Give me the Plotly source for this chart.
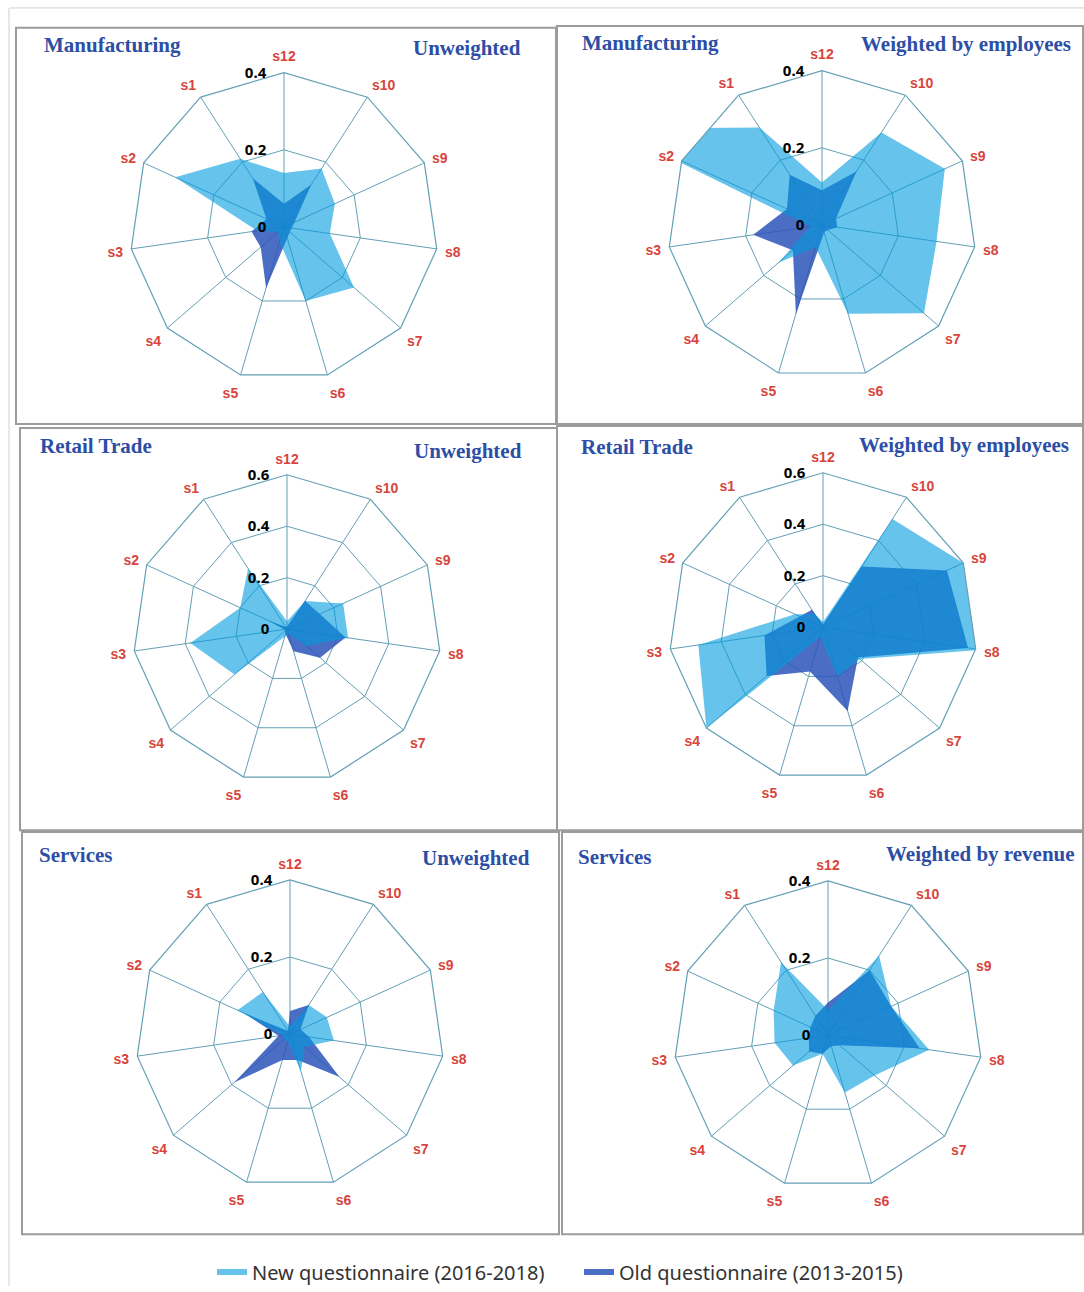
import plotly.graph_objects as go

# Spokes, clockwise from the top
categories = ["s12", "s10", "s9", "s8", "s7", "s6", "s5", "s4", "s3", "s2", "s1"]

# Manufacturing
mfg_unweighted_new = [0.14, 0.18, 0.145, 0.12, 0.24, 0.20, 0.04, 0.02, 0.07, 0.31, 0.21]
mfg_unweighted_old = [0.06, 0.13, 0.03, 0.02, 0.02, 0.03, 0.165, 0.08, 0.085, 0.05, 0.15]
mfg_employees_new = [0.11, 0.285, 0.35, 0.30, 0.35, 0.24, 0.06, 0.15, 0.03, 0.60, 0.30]
mfg_employees_old = [0.09, 0.165, 0.04, 0.04, 0.02, 0.02, 0.24, 0.10, 0.18, 0.10, 0.155]

# Retail trade
retail_unweighted_new = [0.03, 0.13, 0.24, 0.24, 0.10, 0.02, 0.03, 0.27, 0.38, 0.20, 0.28]
retail_unweighted_old = [0.01, 0.13, 0.14, 0.23, 0.17, 0.09, 0.02, 0.01, 0.01, 0.08, 0.01]
retail_employees_new = [0.02, 0.50, 0.60, 0.62, 0.19, 0.20, 0.04, 0.60, 0.49, 0.12, 0.06]
retail_employees_old = [0.01, 0.28, 0.53, 0.57, 0.18, 0.34, 0.18, 0.29, 0.23, 0.10, 0.08]

# Services
serv_unweighted_new = [0.02, 0.09, 0.105, 0.115, 0.05, 0.10, 0.02, 0.02, 0.02, 0.15, 0.13]
serv_unweighted_old = [0.06, 0.09, 0.03, 0.05, 0.17, 0.07, 0.07, 0.19, 0.03, 0.13, 0.01]
serv_revenue_new = [0.065, 0.245, 0.18, 0.265, 0.16, 0.155, 0.05, 0.12, 0.14, 0.155, 0.225]
serv_revenue_old = [0.085, 0.20, 0.18, 0.24, 0.04, 0.03, 0.05, 0.065, 0.05, 0.05, 0.06]

sectors = ["Manufacturing", "Manufacturing", "Retail Trade", "Retail Trade", "Services", "Services"]
weightings = ["Unweighted", "Weighted by employees", "Unweighted", "Weighted by employees",
              "Unweighted", "Weighted by revenue"]
radial_max = [0.4, 0.4, 0.6, 0.6, 0.4, 0.4]
new_series = [mfg_unweighted_new, mfg_employees_new, retail_unweighted_new,
              retail_employees_new, serv_unweighted_new, serv_revenue_new]
old_series = [mfg_unweighted_old, mfg_employees_old, retail_unweighted_old,
              retail_employees_old, serv_unweighted_old, serv_revenue_old]

legend_new = "New questionnaire (2016-2018)"
legend_old = "Old questionnaire (2013-2015)"

W, H = 1084, 1292
R = 155
centers = [(284, 228), (822, 226), (287, 632), (823, 630), (290, 1039), (828, 1040)]
boxes = [(16, 28, 556, 426), (557, 26, 1083, 426), (20, 430, 557, 834),
         (557, 428, 1083, 834), (22, 836, 559, 1240), (562, 836, 1083, 1240)]
title_left = [(42, 45), (580, 43), (38, 448), (579, 449), (37, 859), (576, 861)]
title_right = [(523, 48), (1073, 44), (524, 453), (1071, 447), (532, 862), (1077, 858)]

NEW_COLOR = "rgba(0,155,222,0.6)"
OLD_COLOR = "rgba(45,85,185,0.86)"
GRID = "#64A0B6"
LABEL_RED = "#D8443B"
TITLE_BLUE = "#2C4EA6"

fig = go.Figure()


def px_x(x):
    return x / W


def px_y(y):
    return 1 - y / H


layout_polars = {}
for i in range(6):
    name = "polar" if i == 0 else f"polar{i + 1}"
    cx, cy = centers[i]
    closed_cats = categories + [categories[0]]
    fig.add_trace(go.Scatterpolar(
        r=old_series[i] + [old_series[i][0]], theta=closed_cats,
        mode="none", fill="toself", fillcolor=OLD_COLOR,
        name=legend_old, legendgroup="old", showlegend=(i == 0),
        subplot=name, hoverinfo="r+theta"))
    fig.add_trace(go.Scatterpolar(
        r=new_series[i] + [new_series[i][0]], theta=closed_cats,
        mode="none", fill="toself", fillcolor=NEW_COLOR,
        name=legend_new, legendgroup="new", showlegend=(i == 0),
        subplot=name, hoverinfo="r+theta"))
    rmax = radial_max[i]
    ticks = [round(0.2 * k, 1) for k in range(int(round(rmax / 0.2)) + 1)]
    layout_polars[name] = dict(
        domain=dict(x=[px_x(cx - R), px_x(cx + R)], y=[px_y(cy + R), px_y(cy - R)]),
        gridshape="linear",
        bgcolor="white",
        angularaxis=dict(
            type="category", categoryorder="array", categoryarray=categories,
            rotation=90, direction="clockwise",
            showline=True, linecolor=GRID, linewidth=1.2,
            gridcolor=GRID, gridwidth=1.2,
            ticks="outside", ticklen=5, tickcolor="rgba(0,0,0,0)",
            tickfont=dict(family="Liberation Sans", size=14, color=LABEL_RED, weight="bold"),
        ),
        radialaxis=dict(
            range=[0, rmax], tickvals=ticks,
            ticktext=["0" if t == 0 else f"{t:.1f}" for t in ticks],
            angle=90, tickangle=90, side="counterclockwise",
            showline=False, gridcolor=GRID, gridwidth=1.2,
            ticks="outside", ticklen=12, tickcolor="rgba(0,0,0,0)",
            tickfont=dict(family="Noto Sans", size=15, color="black", weight="bold"),
        ),
    )

shapes = []
for (x0, y0, x1, y1) in boxes:
    shapes.append(dict(type="rect", xref="paper", yref="paper",
                       x0=px_x(x0), x1=px_x(x1), y0=px_y(y1), y1=px_y(y0),
                       line=dict(color="#9C9C9C", width=2), fillcolor="rgba(0,0,0,0)"))
shapes.append(dict(type="line", xref="paper", yref="paper",
                   x0=px_x(10), x1=1, y0=px_y(8), y1=px_y(8),
                   line=dict(color="#D0D0D0", width=1)))
shapes.append(dict(type="line", xref="paper", yref="paper",
                   x0=px_x(9), x1=px_x(9), y0=0, y1=px_y(8),
                   line=dict(color="#D0D0D0", width=1)))

annotations = []
for i in range(6):
    lx, ly = title_left[i]
    rx, ry = title_right[i]
    annotations.append(dict(text=sectors[i], x=px_x(lx), y=px_y(ly), xref="paper", yref="paper",
                            xanchor="left", yanchor="middle", showarrow=False,
                            font=dict(family="Liberation Serif", size=21, color=TITLE_BLUE,
                                      weight="bold")))
    annotations.append(dict(text=weightings[i], x=px_x(rx), y=px_y(ry), xref="paper", yref="paper",
                            xanchor="right", yanchor="middle", showarrow=False,
                            font=dict(family="Liberation Serif", size=21, color=TITLE_BLUE,
                                      weight="bold")))

fig.update_layout(
    width=W, height=H,
    margin=dict(l=0, r=0, t=0, b=0),
    paper_bgcolor="white",
    showlegend=True,
    legend=dict(orientation="h", x=px_x(212), y=px_y(1278), xanchor="left", yanchor="middle",
                traceorder="reversed", entrywidth=322, entrywidthmode="pixels",
                font=dict(family="Noto Sans", size=20, color="#333333"),
                bgcolor="rgba(0,0,0,0)"),
    shapes=shapes,
    annotations=annotations,
    **layout_polars,
)

fig.write_html("out.html")
